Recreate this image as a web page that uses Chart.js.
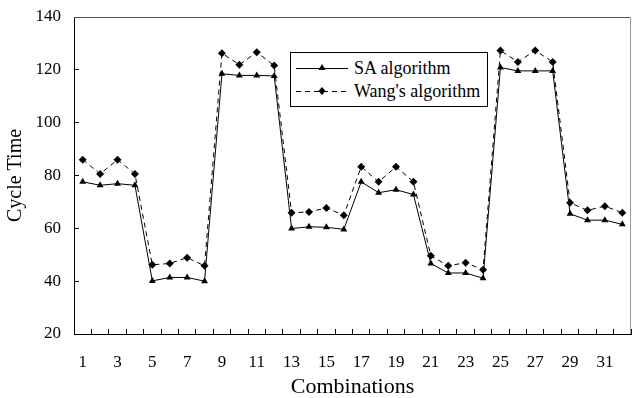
<!DOCTYPE html>
<html>
<head>
<meta charset="utf-8">
<script src="https://cdn.jsdelivr.net/npm/chart.js@4/dist/chart.umd.min.js"></script>
<style>
  html, body { margin: 0; padding: 0; background: #fff; }
  #wrap { position: relative; width: 635px; height: 398px; }
  #legend {
    position: absolute; left: 290px; top: 52px; width: 198px; height: 55px;
    border: 1px solid #000; background: #fff; box-sizing: border-box;
    font-family: "Liberation Serif", "Times New Roman", serif; font-size: 18px; color: #000;
  }
  #legend .row { position: absolute; left: 5px; height: 20px; display: flex; align-items: center; }
  #legend svg { margin-right: 6px; }
</style>
</head>
<body>
<div id="wrap">
  <canvas id="lineChart"></canvas>
  <div id="legend"></div>
</div>
<script>
let combinations = [];
for (let i = 1; i <= 32; i++) combinations.push(String(i));

let saValues = [
    77.6, 76.3, 76.9, 76.3,
    40.1, 41.4, 41.4, 40.0,
    118.5, 117.9, 117.9, 117.7,
    59.9, 60.6, 60.4, 59.6,
    77.6, 73.5, 74.6, 72.8,
    46.7, 43.1, 43.1, 41.1,
    120.9, 119.6, 119.6, 119.6,
    65.5, 63.1, 63.1, 61.5
];

let wangValues = [
    86.0, 80.6, 86.0, 80.6,
    46.2, 46.7, 48.9, 45.8,
    126.3, 121.9, 126.7, 121.6,
    65.9, 66.2, 67.7, 65.0,
    83.3, 77.6, 83.3, 77.6,
    49.6, 45.8, 47.0, 44.3,
    127.3, 123.0, 127.3, 123.0,
    69.7, 66.8, 68.4, 65.9
];

let seriesNames = ['SA algorithm', "Wang's algorithm"];

const serif = "'Liberation Serif', 'Times New Roman', serif";

// thin frame on top and right of the plot
const framePlugin = {
    id: 'frame',
    afterDraw(chart) {
        const a = chart.chartArea;
        const ctx = chart.ctx;
        ctx.save();
        ctx.strokeStyle = '#555';
        ctx.lineWidth = 1;
        ctx.beginPath();
        ctx.moveTo(a.left, a.top + 0.5);
        ctx.lineTo(a.right - 0.5, a.top + 0.5);
        ctx.stroke();
        ctx.strokeStyle = '#999';
        ctx.beginPath();
        ctx.moveTo(a.right - 0.5, a.top);
        ctx.lineTo(a.right - 0.5, a.bottom);
        ctx.stroke();
        ctx.restore();
    }
};

const data = {
    labels: combinations,
    datasets: [{
        label: seriesNames[0],
        data: saValues,
        borderColor: '#000',
        backgroundColor: '#000',
        borderWidth: 1,
        pointStyle: 'triangle',
        pointRadius: 4,
        pointBorderWidth: 0,
        tension: 0
    }, {
        label: seriesNames[1],
        data: wangValues,
        borderColor: '#000',
        backgroundColor: '#000',
        borderWidth: 1,
        borderDash: [5, 4],
        pointStyle: 'rectRot',
        pointRadius: 4,
        pointBorderWidth: 0,
        tension: 0
    }]
};

const config = {
    type: 'line',
    data: data,
    options: {
        responsive: true,
        maintainAspectRatio: false,
        animation: false,
        layout: { padding: { top: 17, right: 2, left: 0, bottom: 0 } },
        plugins: {
            legend: { display: false },
            tooltip: { enabled: false }
        },
        scales: {
            x: {
                offset: true,
                afterFit: (scale) => {
                    scale.height = 64;
                    scale.paddingLeft = 0;
                    scale.paddingRight = 0;
                },
                grid: { offset: true, drawOnChartArea: false, tickLength: -5, tickColor: '#000' },
                border: { color: '#000', width: 1 },
                ticks: {
                    autoSkip: false,
                    maxRotation: 0,
                    padding: 23,
                    color: '#000',
                    font: { family: serif, size: 17 },
                    callback: function (val, index) {
                        return index % 2 === 0 ? this.getLabelForValue(val) : '';
                    }
                },
                title: {
                    display: true,
                    text: 'Combinations',
                    color: '#000',
                    font: { family: serif, size: 22, lineHeight: 1 },
                    padding: { top: -12, bottom: 0 }
                }
            },
            y: {
                min: 20,
                max: 140,
                afterFit: (scale) => {
                    scale.width = 74;
                    scale.paddingTop = 0;
                    scale.paddingBottom = 0;
                },
                grid: { drawOnChartArea: false, tickLength: -5, tickColor: '#000' },
                border: { color: '#000', width: 1 },
                ticks: {
                    stepSize: 20,
                    padding: 18,
                    color: '#000',
                    font: { family: serif, size: 17 }
                },
                title: {
                    display: true,
                    text: 'Cycle Time',
                    color: '#000',
                    font: { family: serif, size: 20, lineHeight: 1 },
                    padding: { top: 6, bottom: 0 }
                }
            }
        }
    },
    plugins: [framePlugin]
};

const chart = new Chart(document.getElementById('lineChart'), config);

// html legend built from the datasets
const legendBox = document.getElementById('legend');
chart.data.datasets.forEach((ds, i) => {
    const row = document.createElement('div');
    row.className = 'row';
    row.style.top = (5 + i * 23) + 'px';
    const dash = ds.borderDash ? 'stroke-dasharray="5,4"' : '';
    const marker = ds.pointStyle === 'triangle'
        ? '<polygon points="26,5 29.5,11 22.5,11" fill="#000"/>'
        : '<polygon points="26,5 29.5,9 26,13 22.5,9" fill="#000"/>';
    row.innerHTML = '<svg width="52" height="18"><line x1="0" y1="9.5" x2="52" y2="9.5" stroke="#000" stroke-width="1" ' + dash + '/>' + marker + '</svg>';
    const txt = document.createElement('span');
    txt.textContent = ds.label;
    row.appendChild(txt);
    legendBox.appendChild(row);
});
</script>
</body>
</html>
